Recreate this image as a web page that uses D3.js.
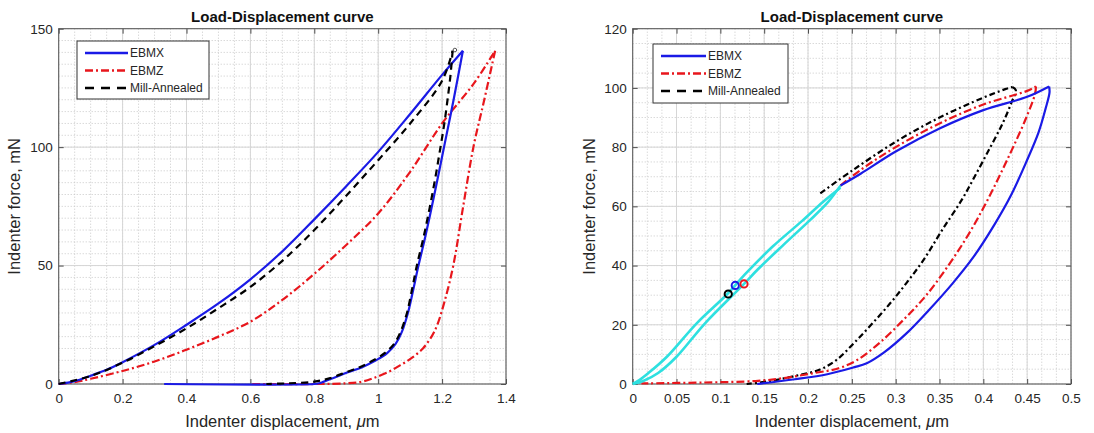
<!DOCTYPE html>
<html>
<head>
<meta charset="utf-8">
<script src="https://cdn.jsdelivr.net/npm/d3@7"></script>
<style>
  body { margin: 0; background: #fff; }
  svg { font-family: "Liberation Sans", Arial, sans-serif; }
  .tick text { fill: #262626; font-size: 13px; }
  .tick line { stroke: #4d4d4d; }
  .domain { display: none; }
</style>
</head>
<body>
<svg id="chart" width="1094" height="433"></svg>
<script>
// ---- left panel: load / unload, [displacement um, force mN]
var leftEbmxLoad = [[0,0],[0.05,1.2],[0.1,3.5],[0.15,6],[0.2,9.2],[0.3,16.5],[0.4,25],[0.5,34],[0.6,44.2],[0.7,56],[0.8,69.5],[0.9,83.5],[1.0,98],[1.1,114],[1.2,130.5],[1.265,140.7]];
var leftEbmxUnload = [[1.265,140.7],[1.236,120],[1.206,100],[1.188,88],[1.168,75],[1.147,62],[1.126,50],[1.11,40],[1.093,30],[1.074,22],[1.055,17],[1.028,13],[0.993,10],[0.948,7],[0.905,5],[0.86,2.5],[0.83,1],[0.815,0.3],[0.80,0],[0.33,0]];
var leftEbmzLoad = [[0,0],[0.05,0.8],[0.1,2.2],[0.2,5.5],[0.3,9.5],[0.4,14.5],[0.5,20],[0.6,26.3],[0.7,35.5],[0.8,46.5],[0.9,58.7],[1.0,72],[1.1,89.6],[1.2,110],[1.3,127],[1.366,140.7]];
var leftEbmzUnload = [[1.366,140.7],[1.332,120],[1.298,100],[1.266,75],[1.235,50],[1.209,35.5],[1.185,25],[1.167,20],[1.14,15],[1.105,11],[1.07,8],[1.03,5],[0.985,2.5],[0.95,1],[0.9,0.3],[0.8,0],[0.6,0]];
var leftMillLoad = [[0,0],[0.1,3.4],[0.2,9],[0.3,16],[0.4,23.5],[0.5,32],[0.6,41],[0.7,52],[0.8,65],[0.9,79.5],[1.0,94.5],[1.1,110],[1.2,128],[1.233,140.7]];
var leftMillUnload = [[1.233,140.7],[1.226,130],[1.217,120],[1.207,110],[1.195,100],[1.18,88],[1.162,75],[1.142,62],[1.121,50],[1.106,40],[1.09,30],[1.07,22],[1.05,17],[1.02,13],[0.985,10],[0.94,7],[0.9,5],[0.85,2.5],[0.8,1],[0.72,0.3],[0.65,0]];
var leftMillPeak = [[1.24,141]];

// ---- right panel
var rightCyanUpper = [[0,0],[0.008,1.4],[0.018,3.7],[0.039,9.2],[0.073,20.5],[0.108,30.4],[0.128,37],[0.16,46.5],[0.193,55],[0.217,61.5],[0.237,66.3]];
var rightCyanLower = [[0,0],[0.012,1],[0.029,3.7],[0.05,9.2],[0.0825,20.5],[0.127,33.8],[0.142,38.5],[0.172,47],[0.201,55],[0.223,61.5],[0.237,67]];
var rightEbmxLoad = [[0.237,67],[0.26,71],[0.3,78.5],[0.35,86.3],[0.4,92.5],[0.45,97],[0.475,100.5]];
var rightEbmxUnload = [[0.475,100.5],[0.4755,98.5],[0.471,93],[0.463,85],[0.449,75],[0.432,64],[0.413,54],[0.389,43],[0.365,34],[0.338,25],[0.312,17],[0.286,10.5],[0.267,7],[0.252,5.6],[0.222,3.3],[0.185,1.6],[0.142,0]];
var rightEbmzLoad = [[0.237,67],[0.26,72.3],[0.3,80],[0.35,88],[0.4,94.4],[0.45,99],[0.46,100.5]];
var rightEbmzUnload = [[0.46,100.5],[0.459,98],[0.449,90],[0.434,80],[0.418,70],[0.401,60],[0.382,50],[0.36,40],[0.335,30],[0.31,22],[0.282,14],[0.256,8.1],[0.235,5.3],[0.205,3.6],[0.17,1.9],[0.14,1],[0.08,0.5],[0.01,0.2]];
var rightMillLoad = [[0.214,64.4],[0.25,72],[0.3,81.8],[0.35,90],[0.4,96.7],[0.425,99.6],[0.433,100.3]];
var rightMillUnload = [[0.433,100.3],[0.437,99.3],[0.432,95],[0.422,88],[0.408,80],[0.39,70],[0.375,62],[0.353,52],[0.332,42],[0.312,34],[0.293,27],[0.272,20],[0.252,13.7],[0.232,8],[0.212,4.7],[0.185,2.7],[0.157,1],[0.13,0]];
var rightMarkEbmx = [[0.117,33.3]];
var rightMarkEbmz = [[0.127,33.8]];
var rightMarkMill = [[0.109,30.4]];

// ---- ticks and labels
var leftXTicks = [0,0.2,0.4,0.6,0.8,1,1.2,1.4];
var leftYTicks = [0,50,100,150];
var rightXTicks = [0,0.05,0.1,0.15,0.2,0.25,0.3,0.35,0.4,0.45,0.5];
var rightYTicks = [0,20,40,60,80,100,120];
var seriesNames = ["EBMX","EBMZ","Mill-Annealed"];
var titleText = "Load-Displacement curve";

var BLUE = "#1a1ae6", RED = "#e8161c", BLACK = "#000", CYAN = "#2ee0e0";
var DASHDOT = "8,3,2,3", DASHED = "7,5";

var svg = d3.select("#chart");

function panel(opt) {
  var x = d3.scaleLinear().domain(opt.xDomain).range([opt.left, opt.right]);
  var y = d3.scaleLinear().domain(opt.yDomain).range([opt.bottom, opt.top]);
  var g = svg.append("g");
  var w = opt.right - opt.left, h = opt.bottom - opt.top;

  // minor grid
  var xMinor = d3.range(opt.xDomain[0], opt.xDomain[1] + 1e-9, opt.xMinor);
  var yMinor = d3.range(opt.yDomain[0], opt.yDomain[1] + 1e-9, opt.yMinor);
  g.selectAll(".xmin").data(xMinor).enter().append("line")
    .attr("x1", x).attr("x2", x).attr("y1", opt.top).attr("y2", opt.bottom)
    .attr("stroke", "#c8c8c8").attr("stroke-dasharray", "1,2");
  g.selectAll(".ymin").data(yMinor).enter().append("line")
    .attr("y1", y).attr("y2", y).attr("x1", opt.left).attr("x2", opt.right)
    .attr("stroke", "#c8c8c8").attr("stroke-dasharray", "1,2");
  // major grid
  g.selectAll(".xmaj").data(opt.xTicks).enter().append("line")
    .attr("x1", x).attr("x2", x).attr("y1", opt.top).attr("y2", opt.bottom)
    .attr("stroke", "#d6d6d6");
  g.selectAll(".ymaj").data(opt.yTicks).enter().append("line")
    .attr("y1", y).attr("y2", y).attr("x1", opt.left).attr("x2", opt.right)
    .attr("stroke", "#d6d6d6");

  // axes, ticks pointing inside
  var fmt = function(d){ return String(+d.toFixed(3)); };
  g.append("g").attr("transform", "translate(0," + opt.bottom + ")")
    .call(d3.axisBottom(x).tickValues(opt.xTicks).tickFormat(fmt).tickSize(-5).tickPadding(9));
  g.append("g").attr("transform", "translate(0," + opt.top + ")")
    .call(d3.axisTop(x).tickValues(opt.xTicks).tickFormat("").tickSize(-5));
  g.append("g").attr("transform", "translate(" + opt.left + ",0)")
    .call(d3.axisLeft(y).tickValues(opt.yTicks).tickFormat(fmt).tickSize(-5).tickPadding(6));
  g.append("g").attr("transform", "translate(" + opt.right + ",0)")
    .call(d3.axisRight(y).tickValues(opt.yTicks).tickFormat("").tickSize(-5));
  g.selectAll(".tick text").style("font-size", "13.5px").attr("fill", "#262626");

  g.append("rect").attr("x", opt.left).attr("y", opt.top).attr("width", w).attr("height", h)
    .attr("fill", "none").attr("stroke", "#555").attr("stroke-width", 1);

  var line = d3.line().x(function(d){ return x(d[0]); }).y(function(d){ return y(d[1]); })
    .curve(d3.curveCatmullRom.alpha(0.5));
  var plotG = g.append("g");
  opt.series.forEach(function(s) {
    plotG.append("path").datum(s.data).attr("d", line)
      .attr("fill", "none").attr("stroke", s.color).attr("stroke-width", s.width || 2.2)
      .attr("stroke-dasharray", s.dash || null).attr("stroke-linejoin", "round");
  });
  (opt.marks || []).forEach(function(m) {
    plotG.selectAll(null).data(m.data).enter().append("circle")
      .attr("cx", function(d){ return x(d[0]); }).attr("cy", function(d){ return y(d[1]); })
      .attr("r", m.r).attr("fill", "none").attr("stroke", m.color).attr("stroke-width", m.sw);
  });

  // titles
  var cx = (opt.left + opt.right) / 2;
  g.append("text").attr("x", cx).attr("y", 22).attr("text-anchor", "middle")
    .style("font-weight", "bold").style("font-size", "15px").attr("fill", "#111").text(titleText);
  var xl = g.append("text").attr("x", cx).attr("y", 427).attr("text-anchor", "middle")
    .style("font-size", "16.5px").attr("fill", "#262626");
  xl.append("tspan").text("Indenter displacement,  ");
  xl.append("tspan").style("font-style", "italic").text("\u03bc");
  xl.append("tspan").text("m");
  g.append("text").attr("transform", "translate(" + opt.yLabelX + "," + ((opt.top + opt.bottom) / 2) + ") rotate(-90)")
    .attr("text-anchor", "middle").style("font-size", "16.5px").attr("fill", "#262626")
    .text("Indenter force, mN");

  // legend
  var L = opt.legend;
  var lg = g.append("g");
  lg.append("rect").attr("x", L.x).attr("y", L.y).attr("width", L.w).attr("height", L.h)
    .attr("fill", "#fff").attr("stroke", "#333").attr("stroke-width", 1);
  var legendStyle = [{c: BLUE, d: null}, {c: RED, d: DASHDOT}, {c: BLACK, d: "9,7"}];
  seriesNames.forEach(function(name, i) {
    var yy = L.y + 12 + i * L.step;
    lg.append("line").attr("x1", L.x + 8).attr("x2", L.x + 8 + L.lineLen).attr("y1", yy).attr("y2", yy)
      .attr("stroke", legendStyle[i].c).attr("stroke-width", 2.4).attr("stroke-dasharray", legendStyle[i].d);
    lg.append("text").attr("x", L.x + 10 + L.lineLen).attr("y", yy + 4.3)
      .style("font-size", "12px").attr("fill", "#262626").text(name);
  });
}

panel({
  left: 58.7, right: 506, top: 28.7, bottom: 384,
  xDomain: [0, 1.4], yDomain: [0, 150], xTicks: leftXTicks, yTicks: leftYTicks,
  xMinor: 0.05, yMinor: 5, yLabelX: 20,
  series: [
    {data: leftEbmzLoad, color: RED, dash: DASHDOT},
    {data: leftEbmzUnload, color: RED, dash: DASHDOT},
    {data: leftEbmxLoad, color: BLUE},
    {data: leftEbmxUnload, color: BLUE},
    {data: leftMillLoad, color: BLACK, dash: DASHED},
    {data: leftMillUnload, color: BLACK, dash: DASHED}
  ],
  marks: [{data: leftMillPeak, color: "#555", r: 1.8, sw: 1}],
  legend: {x: 77, y: 41, w: 132, h: 58, step: 17.5, lineLen: 43}
});

panel({
  left: 632.7, right: 1071, top: 28.7, bottom: 384,
  xDomain: [0, 0.5], yDomain: [0, 120], xTicks: rightXTicks, yTicks: rightYTicks,
  xMinor: 0.05 / 3, yMinor: 5, yLabelX: 595,
  series: [
    {data: rightMillLoad, color: BLACK, dash: "6,3,2,3"},
    {data: rightMillUnload, color: BLACK, dash: "6,3,2,3"},
    {data: rightEbmzLoad, color: RED, dash: DASHDOT},
    {data: rightEbmzUnload, color: RED, dash: DASHDOT},
    {data: rightEbmxLoad, color: BLUE},
    {data: rightEbmxUnload, color: BLUE},
    {data: rightCyanUpper, color: CYAN, width: 2.6},
    {data: rightCyanLower, color: CYAN, width: 2.6}
  ],
  marks: [
    {data: rightMarkEbmx, color: BLUE, r: 3.6, sw: 2},
    {data: rightMarkMill, color: BLACK, r: 3.6, sw: 2},
    {data: rightMarkEbmz, color: RED, r: 3.6, sw: 2}
  ],
  legend: {x: 653, y: 44, w: 135, h: 59, step: 17.5, lineLen: 45}
});
</script>
</body>
</html>
